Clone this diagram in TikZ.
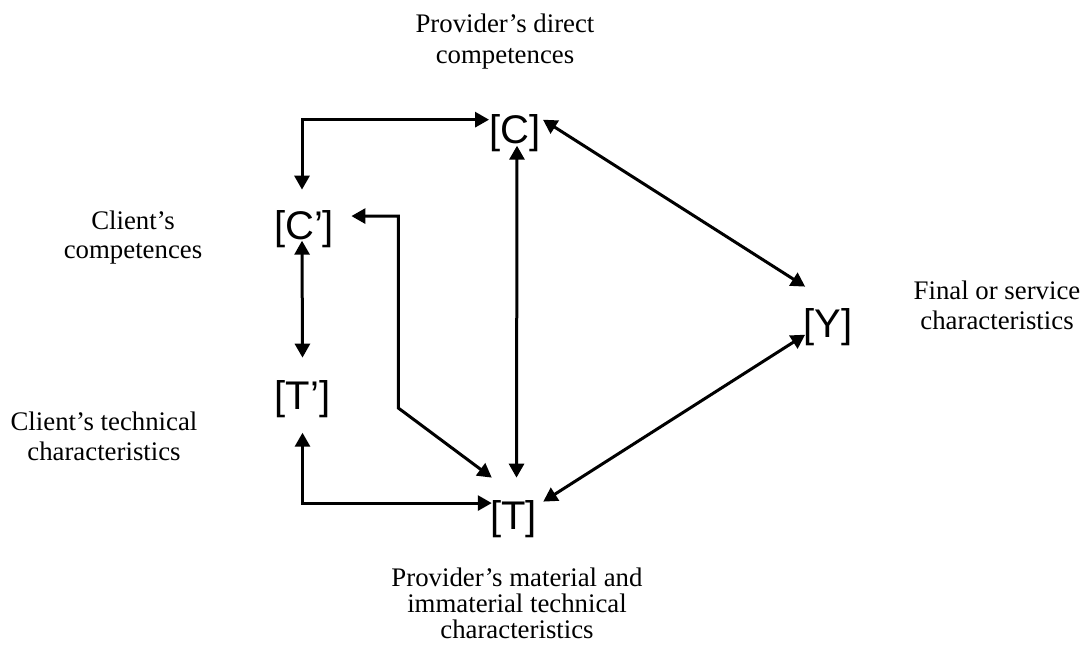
\documentclass[tikz,border=0pt]{standalone}
\usepackage{fontspec}
\setmainfont{Liberation Serif}
\newfontfamily\arialfont{Liberation Sans}
\usetikzlibrary{arrows.meta,calc}

\begin{document}
\begin{tikzpicture}[x=0.5pt, y=-0.5pt, >={Triangle[length=7pt,width=7.5pt]},
  var/.style={font=\arialfont\fontsize{20}{24}\selectfont, inner sep=0pt, anchor=base},
  lbl/.style={font=\fontsize{13.4}{15}\selectfont, align=center, inner sep=0pt},
  link/.style={<->, line width=1.5pt}]
  \useasboundingbox (0,0) rectangle (1085,650);
  % Variables
  \node[var] (C)  at (515,143) {[C]};
  \node[var] (Cp) at (304,239) {[C’]};
  \node[var] (Tp) at (302.5,409) {[T’]};
  \node[var] (T)  at (513.5,529) {[T]};
  \node[var] (Y)  at (828,337) {[Y]};
  % Descriptions
  \node[lbl, font=\fontsize{13.4}{15.5}\selectfont] (lC) at (505,42)
    {Provider’s direct\\competences};
  \node[lbl, font=\fontsize{13.4}{14.5}\selectfont] (lCp) at (133,238)
    {Client’s\\competences};
  \node[lbl] (lTp) at (104,436) {Client’s technical\\characteristics};
  \node[lbl] (lY)  at (997,305) {Final or service\\characteristics};
  \node[lbl, font=\fontsize{13.4}{13}\selectfont] (lT) at (517,603.5)
    {Provider’s material and\\immaterial technical\\characteristics};
  % Links
  \draw[link] ($(Cp.north)+(-2,-20)$) |- ($(C.west)+(0,-13)$);
  \draw[link] ($(C.south)+(2,-6)$) -- ($(T.north)+(3,-22)$);
  \draw[link] ($(C.east)+(2,-13)$) -- ($(Y.north west)+(2,-21)$);
  \draw[link] ($(T.north east)+(6,2)$) -- ($(Y.west)+(2,8)$);
  \draw[link] ($(Cp.south)+(-2,-7)$) -- ($(Tp.north)+(0,-22)$);
  \draw[link] ($(Tp.south)+(0,15)$) |- ($(T.west)+(2,-15.6)$);
  \draw[link] ($(Cp.east)+(17,-12.6)$) -- ++(47,0) -- ++(0,192)
    -- ($(T.north west)+(2,-22)$);
\end{tikzpicture}
\end{document}
